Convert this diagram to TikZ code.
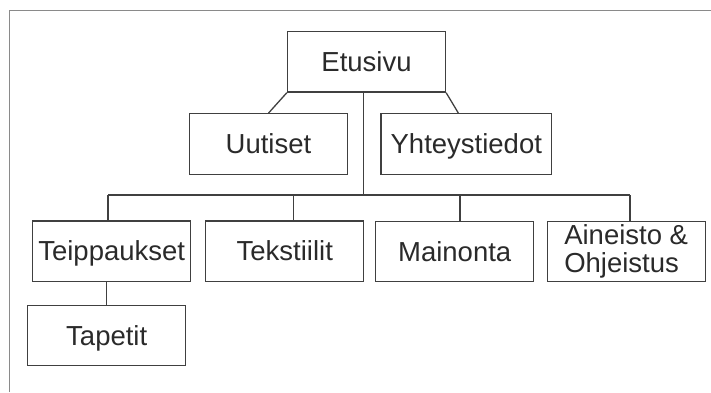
\documentclass[tikz,border=0pt]{standalone}
\usepackage{fontspec}
\setmainfont{Liberation Sans}
\definecolor{linegray}{HTML}{404040}
\definecolor{txtgray}{HTML}{2A2A2A}
\definecolor{framegray}{HTML}{8A8A8A}
\begin{document}
\begin{tikzpicture}[x=1pt,y=-1pt,
  box/.style={draw=linegray, line width=1.3pt, minimum width=158pt, minimum height=60.5pt,
    inner sep=0pt, text=txtgray, text height=19.5pt, text depth=0pt,
    font=\fontsize{27.5}{28.3}\selectfont},
  conn/.style={draw=linegray, line width=1.3pt}]
\useasboundingbox (0,0) rectangle (711,392);
\draw[framegray, line width=1pt] (9.5,392) -- (9.5,10.5) -- (711,10.5);
\node[box] (et) at (366.5,61.8) {Etusivu};
\node[box] (uu) at (268.5,144) {Uutiset};
\node[box, minimum width=170.7pt] (yh) at (466.3,143.9) {Yhteystiedot};
\node[box] (tp) at (111.7,251.2) {Teippaukset};
\node[box] (tk) at (284.8,251.2) {Tekstiilit};
\node[box] (ma) at (454.7,251.5) {Mainonta};
\node[box, align=left, text height=, text depth=] (ai) at (626.2,251.5) {Aineisto \&\\Ohjeistus};
\node[box] (ta) at (106.7,335.5) {Tapetit};
\coordinate (b0) at (363.3,195);
\coordinate (b1) at (108,195);
\coordinate (b2) at (293.3,195);
\coordinate (b3) at (460,195);
\coordinate (b4) at (630,195);
\draw[conn] (et.south west) -- (uu.north);
\draw[conn] (et.south east) -- (yh.north -| 458.3,0);
\draw[conn] (et.south -| b0) -- (b0);
\draw[conn] (b1) -- (b4);
\draw[conn] (b1) -- (tp.north -| b1);
\draw[conn] (b2) -- (tk.north -| b2);
\draw[conn] (b3) -- (ma.north -| b3);
\draw[conn] (b4) -- (ai.north -| b4);
\draw[conn] (tp.south -| ta.north) -- (ta.north);
\end{tikzpicture}
\end{document}
